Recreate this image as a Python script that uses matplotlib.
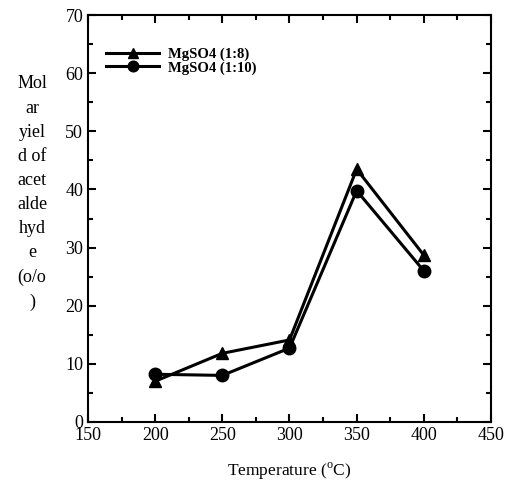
import matplotlib.pyplot as plt
from matplotlib.ticker import MultipleLocator

plt.rcParams['font.family'] = ['Liberation Serif', 'DejaVu Serif']
plt.rcParams['mathtext.fontset'] = 'custom'
plt.rcParams['mathtext.rm'] = 'Liberation Serif'

# temperatures (C) and molar yield of acetaldehyde
temp = [200, 250, 300, 350, 400]
yield_1_8 = [7.0, 11.8, 14.1, 43.5, 28.7]
yield_1_10 = [8.2, 8.0, 12.7, 39.8, 26.0]

fig = plt.figure(figsize=(5.07, 4.90), dpi=100)
ax = fig.add_axes([0.1736, 0.139, 0.7948, 0.830])

ax.plot(temp, yield_1_8, color='black', lw=2.2, marker='^', ms=9,
        label='MgSO4 (1:8)')
ax.plot(temp, yield_1_10, color='black', lw=2.2, marker='o', ms=9,
        label='MgSO4 (1:10)')

ax.set_xlim(150, 450)
ax.set_ylim(0, 70)
ax.xaxis.set_major_locator(MultipleLocator(50))
ax.xaxis.set_minor_locator(MultipleLocator(25))
ax.yaxis.set_major_locator(MultipleLocator(10))
ax.yaxis.set_minor_locator(MultipleLocator(5))
ax.tick_params(which='both', direction='in', top=True, right=True,
               width=1.5, labelsize=13)
ax.tick_params(which='major', length=6)
ax.tick_params(which='minor', length=3.5)
for s in ax.spines.values():
    s.set_linewidth(1.5)

ax.set_xlabel('Temperature ($^{\\rm o}$C)', fontsize=12.5, labelpad=12)

ylab = 'Mol\nar\nyiel\nd of\nacet\nalde\nhyd\ne\n(o/o\n)'
fig.text(32 / 507, 1 - 193 / 490, ylab, fontsize=13, ha='center',
         va='center', linespacing=1.55)

leg = ax.legend(loc='upper left', frameon=False, handlelength=3.6,
                prop={'weight': 'bold', 'size': 10.5}, borderaxespad=0.3,
                bbox_to_anchor=(0.02, 0.945), labelspacing=0.0,
                handletextpad=0.6, markerscale=0.85)

fig.savefig('out.png', dpi=100)
